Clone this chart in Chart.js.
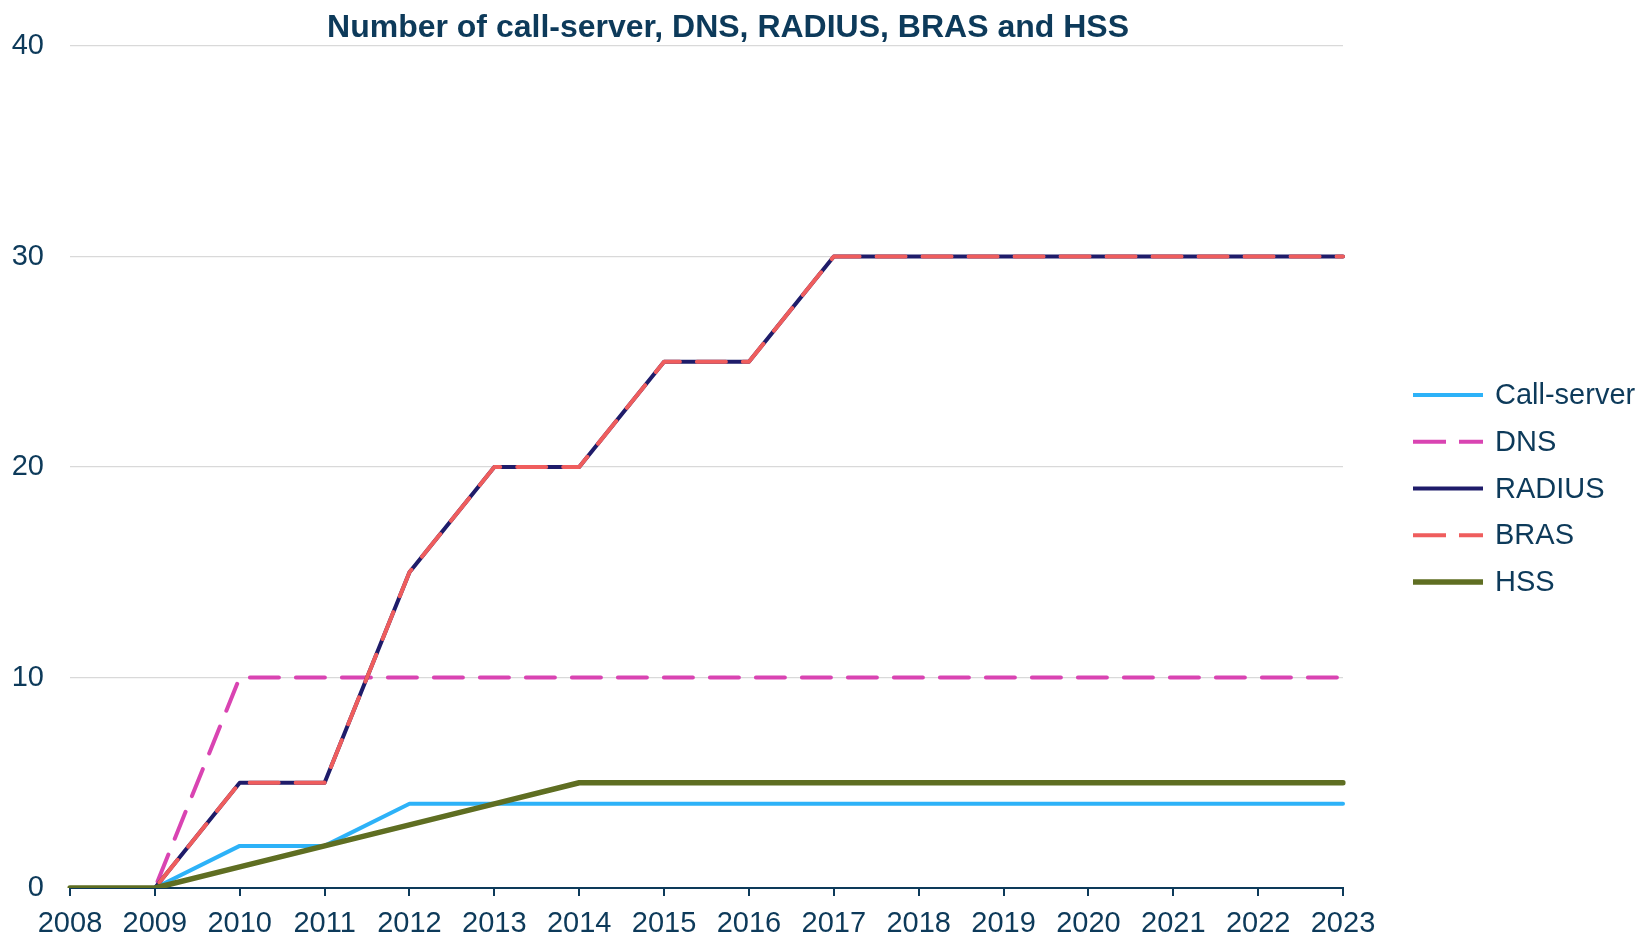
<!DOCTYPE html>
<html>
<head>
<meta charset="utf-8">
<style>
  html, body { margin: 0; padding: 0; background: #ffffff; }
  #wrap { width: 1640px; height: 937px; position: relative; }
</style>
</head>
<body>
<div id="wrap"><canvas id="chart"></canvas></div>

<script src="https://cdn.jsdelivr.net/npm/chart.js@4"></script>
<script>
var years = ['2008', '2009', '2010', '2011', '2012', '2013', '2014', '2015',
             '2016', '2017', '2018', '2019', '2020', '2021', '2022', '2023'];

var callServer = [0, 0, 2, 2, 4, 4, 4, 4, 4, 4, 4, 4, 4, 4, 4, 4];
var dns        = [0, 0, 10, 10, 10, 10, 10, 10, 10, 10, 10, 10, 10, 10, 10, 10];
var radius     = [0, 0, 5, 5, 15, 20, 20, 25, 25, 30, 30, 30, 30, 30, 30, 30];
var bras       = [0, 0, 5, 5, 15, 20, 20, 25, 25, 30, 30, 30, 30, 30, 30, 30];
var hss        = [0, 0, 1, 2, 3, 4, 5, 5, 5, 5, 5, 5, 5, 5, 5, 5];

var yTicks = [0, 10, 20, 30, 40];

var chartTitle = 'Number of call-server, DNS, RADIUS, BRAS and HSS';

var ink = '#0d3a5a';
var fontFamily = '"Liberation Sans", Arial, sans-serif';

function series(label, data, color, width, dash, order) {
  return {
    label: label, data: data,
    borderColor: color, backgroundColor: color,
    borderWidth: width, borderDash: dash || [],
    borderCapStyle: 'round', borderJoinStyle: 'round',
    pointRadius: 0, pointHoverRadius: 0, tension: 0, fill: false,
    order: order
  };
}

// series drawn later sit on top (hss over everything, bras over radius)
var datasets = [
  series('Call-server', callServer, '#2db2f8', 4, null, 5),
  series('DNS', dns, '#d944b2', 4, [29, 17], 4),
  series('RADIUS', radius, '#1f1c6a', 4, null, 3),
  series('BRAS', bras, '#ef5d5d', 4, [29, 17], 2),
  series('HSS', hss, '#5f6e22', 5.5, null, 1)
];

// title centred over the plot, drawn by hand so it can sit off the layout boxes
var titlePlugin = {
  id: 'topTitle',
  afterDraw: function(chart) {
    var ctx = chart.ctx;
    ctx.save();
    ctx.font = 'bold 32px ' + fontFamily;
    ctx.fillStyle = ink;
    ctx.textAlign = 'center';
    ctx.textBaseline = 'alphabetic';
    ctx.fillText(chartTitle, 728, 37);
    ctx.restore();
  }
};

// legend on the right: line samples with the dataset styles, then the label
var sideLegend = {
  id: 'sideLegend',
  afterDraw: function(chart) {
    var ctx = chart.ctx;
    var x0 = 1413, x1 = 1483, tx = 1495, y0 = 395, step = 46.75;
    ctx.save();
    chart.data.datasets.forEach(function(ds, i) {
      var y = y0 + i * step;
      ctx.beginPath();
      ctx.strokeStyle = ds.borderColor;
      ctx.lineWidth = ds.borderWidth;
      ctx.setLineDash(ds.borderDash.length ? [33, 13] : []);
      ctx.lineCap = 'butt';
      ctx.moveTo(x0, y);
      ctx.lineTo(x1, y);
      ctx.stroke();
      ctx.setLineDash([]);
      ctx.font = '29px ' + fontFamily;
      ctx.fillStyle = ink;
      ctx.textAlign = 'left';
      ctx.textBaseline = 'middle';
      ctx.fillText(ds.label, tx, y + 1);
    });
    ctx.restore();
  }
};

new Chart(document.getElementById('chart'), {
  type: 'line',
  data: { labels: years, datasets: datasets },
  plugins: [titlePlugin, sideLegend],
  options: {
    responsive: true, maintainAspectRatio: false, animation: false,
    layout: { padding: { top: 46, right: 297, bottom: 0, left: 0 } },
    plugins: {
      legend: { display: false },
      title: { display: false },
      tooltip: { enabled: false }
    },
    scales: {
      x: {
        offset: false,
        afterFit: function(scale) { scale.height = 49; },
        border: { display: true, color: ink, width: 2 },
        grid: { drawOnChartArea: false, drawTicks: true, tickLength: 8, color: ink, lineWidth: 2 },
        ticks: { color: ink, padding: 11, maxRotation: 0, autoSkip: false, font: { family: fontFamily, size: 29 } }
      },
      y: {
        min: 0, max: 40,
        afterFit: function(scale) { scale.width = 70; },
        afterBuildTicks: function(scale) { scale.ticks = yTicks.map(function(v) { return { value: v }; }); },
        border: { display: false },
        grid: { color: '#d9d9d9', lineWidth: 1.3, drawTicks: false },
        ticks: { color: ink, padding: 26, font: { family: fontFamily, size: 29 } }
      }
    }
  }
});
</script>
</body>
</html>
